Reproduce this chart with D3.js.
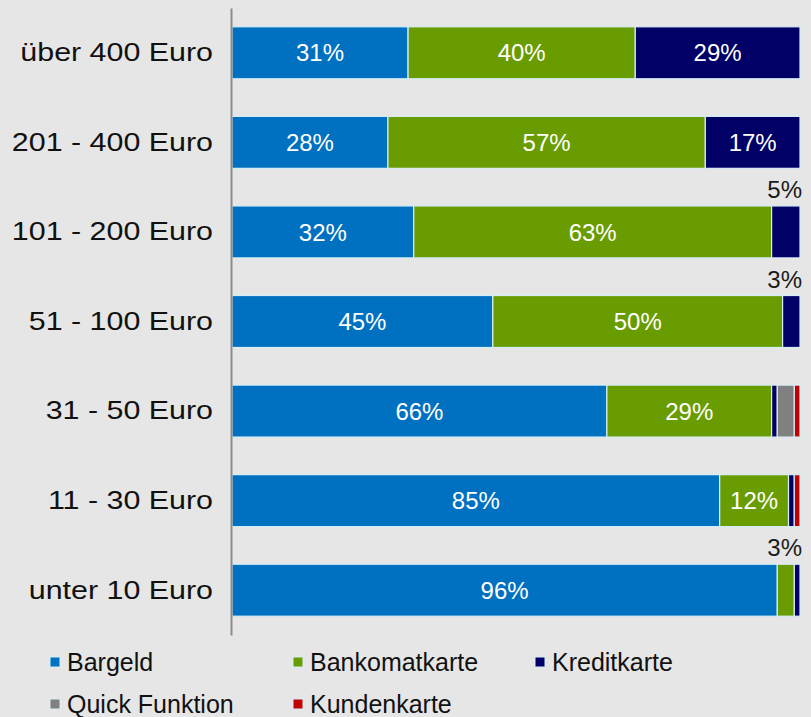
<!DOCTYPE html>
<html>
<head>
<meta charset="utf-8">
<script src="https://cdn.jsdelivr.net/npm/d3@7"></script>
<style>
  html, body { margin: 0; padding: 0; background: #e6e6e6; }
  svg { display: block; font-family: "Liberation Sans", Arial, sans-serif; }
</style>
</head>
<body>
<div id="chart"></div>
<script>
const categories = ["über 400 Euro", "201 - 400 Euro", "101 - 200 Euro", "51 - 100 Euro", "31 - 50 Euro", "11 - 30 Euro", "unter 10 Euro"]
const seriesNames = ["Bargeld", "Bankomatkarte", "Kreditkarte", "Quick Funktion", "Kundenkarte"]
const bargeld = [31, 28, 32, 45, 66, 85, 96]
const bankomat = [40, 57, 63, 50, 29, 12, 3]
const kredit = [29, 17, 5, 3, 1, 1, 1]
const quick = [0, 0, 0, 0, 3, 0, 0]
const kunden = [0, 0, 0, 0, 1, 1, 0]
// small segments that get their label above the bar
const outsideLabels = [["101 - 200 Euro", "Kreditkarte"], ["51 - 100 Euro", "Kreditkarte"], ["unter 10 Euro", "Bankomatkarte"]]
const colors = ["#0070c0", "#699c00", "#000066", "#808080", "#c00000"]

const width = 811, height = 717
const margin = { left: 232, right: 11, top: 8, bottom: 82 }

const svg = d3.select("#chart").append("svg")
  .attr("width", width)
  .attr("height", height)

svg.append("rect").attr("width", width).attr("height", height).attr("fill", "#e6e6e6")

const allSeries = [bargeld, bankomat, kredit, quick, kunden]
const rows = categories.map((c, i) => {
  const row = { cat: c }
  seriesNames.forEach((s, j) => row[s] = allSeries[j][i])
  return row
})

// 100% stacked
const stacked = d3.stack().keys(seriesNames).offset(d3.stackOffsetExpand)(rows)

const x = d3.scaleLinear().domain([0, 1]).range([margin.left, width - margin.right])
const y = d3.scaleBand().domain(categories)
  .range([margin.top, height - margin.bottom])
  .paddingInner(0.42).paddingOuter(0.21)

const color = d3.scaleOrdinal().domain(seriesNames).range(colors)

const layers = svg.append("g").selectAll("g")
  .data(stacked)
  .join("g")
  .attr("fill", d => color(d.key))

layers.selectAll("rect")
  .data(d => d.filter(p => p[1] - p[0] > 0).map(p => Object.assign(p, { key: d.key })))
  .join("rect")
  .attr("x", d => x(d[0]))
  .attr("y", d => y(d.data.cat))
  .attr("width", d => x(d[1]) - x(d[0]))
  .attr("height", y.bandwidth())
  .attr("stroke", "#d6eef6")
  .attr("stroke-width", 1.2)

// labels inside
layers.selectAll("text")
  .data(d => d.filter(p => p.data[d.key] >= 10))
  .join("text")
  .attr("x", d => (x(d[0]) + x(d[1])) / 2)
  .attr("y", d => y(d.data.cat) + y.bandwidth() / 2)
  .attr("dy", "0.36em")
  .attr("text-anchor", "middle")
  .attr("fill", "white")
  .attr("font-size", 24)
  .text(d => d.data[d.key] + "%")

// labels above the bar end
svg.append("g").selectAll("text")
  .data(outsideLabels)
  .join("text")
  .attr("x", width - margin.right + 2)
  .attr("y", d => y(d[0]) - 8)
  .attr("text-anchor", "end")
  .attr("fill", "#1a1a1a")
  .attr("font-size", 24)
  .text(d => rows[categories.indexOf(d[0])][d[1]] + "%")

// category axis
const stretch = 1.17
const yAxis = svg.append("g")
  .attr("transform", `translate(${margin.left - 1},0)`)
  .call(d3.axisLeft(y).tickSize(0).tickPadding(18))
yAxis.select(".domain").attr("stroke", "#8c8c8c").attr("stroke-width", 2)
yAxis.selectAll("text")
  .attr("font-size", 26)
  .attr("fill", "#111")
  .attr("font-family", "Liberation Sans, Arial, sans-serif")
  .attr("x", -18 / stretch)
  .attr("transform", `scale(${stretch},1)`)

// legend
const legendPos = [[50, 662], [293, 662], [535, 662], [50, 704], [293, 704]]
const legend = svg.append("g").selectAll("g")
  .data(seriesNames)
  .join("g")
  .attr("transform", (d, i) => `translate(${legendPos[i][0]},${legendPos[i][1]})`)
legend.append("rect")
  .attr("x", 0).attr("y", -5)
  .attr("width", 10).attr("height", 10)
  .attr("fill", d => color(d))
  .attr("stroke", "#d6eef6")
legend.append("text")
  .attr("x", 17)
  .attr("dy", "0.36em")
  .attr("font-size", 25)
  .attr("fill", "#111")
  .text(d => d)
</script>
</body>
</html>
